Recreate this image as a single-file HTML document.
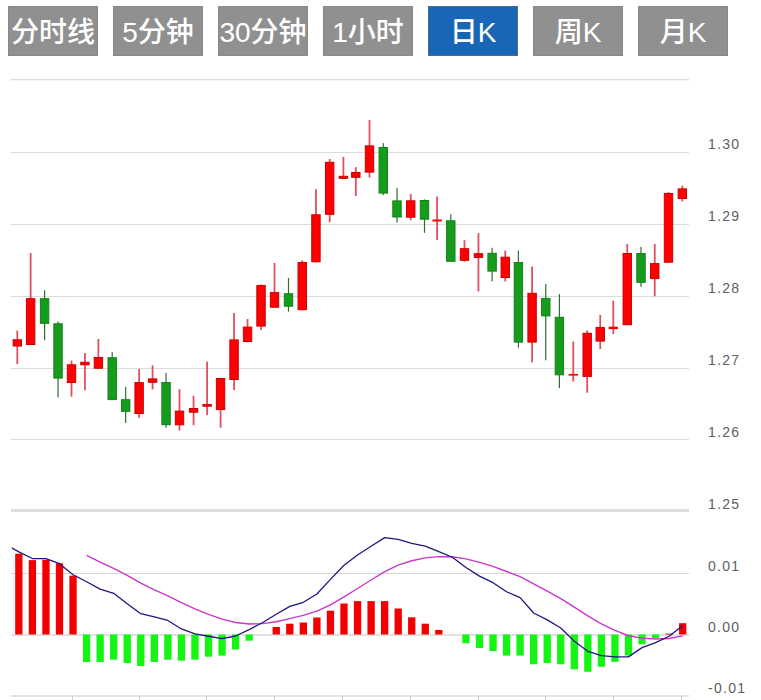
<!DOCTYPE html>
<html><head><meta charset="utf-8"><title>K</title>
<style>
html,body{margin:0;padding:0;background:#fff;}
body{width:761px;height:700px;overflow:hidden;position:relative;font-family:"Liberation Sans","Noto Sans CJK SC",sans-serif;}
.btn{position:absolute;top:6px;width:90px;height:50px;box-sizing:border-box;border:1px solid #888;line-height:51px;background:#909090;color:#fff;text-align:center;font-size:28px;font-weight:500;white-space:nowrap;}
.btn.on{background:#1a66b6;border-color:#4a6c8e;}
svg{position:absolute;left:0;top:0;}
svg text{font-family:"Liberation Sans",sans-serif;}
</style></head><body>
<div class="btn" style="left:8px">分时线</div><div class="btn" style="left:113px">5分钟</div><div class="btn" style="left:218px">30分钟</div><div class="btn" style="left:323px">1小时</div><div class="btn on" style="left:428px">日K</div><div class="btn" style="left:533px">周K</div><div class="btn" style="left:638px">月K</div>
<svg width="761" height="700" viewBox="0 0 761 700">
<rect x="11" y="152" width="678" height="1" fill="#dcdcdc"/>
<rect x="11" y="224" width="678" height="1" fill="#dcdcdc"/>
<rect x="11" y="296" width="678" height="1" fill="#dcdcdc"/>
<rect x="11" y="368" width="678" height="1" fill="#dcdcdc"/>
<rect x="11" y="439" width="678" height="1" fill="#dcdcdc"/>
<rect x="11" y="509" width="678" height="3" fill="#dedede"/>
<rect x="11" y="79" width="678" height="1.3" fill="#dcdcdc"/>
<rect x="11" y="573" width="678" height="1" fill="#d6d6d6"/>
<rect x="11" y="634" width="678" height="2" fill="#e2e2e4"/>
<rect x="11" y="695" width="678" height="2" fill="#e2e2e2"/>
<rect x="72" y="696" width="1" height="4" fill="#d0d0d0"/>
<rect x="139" y="696" width="1" height="4" fill="#d0d0d0"/>
<rect x="206" y="696" width="1" height="4" fill="#d0d0d0"/>
<rect x="274" y="696" width="1" height="4" fill="#d0d0d0"/>
<rect x="342" y="696" width="1" height="4" fill="#d0d0d0"/>
<rect x="410" y="696" width="1" height="4" fill="#d0d0d0"/>
<rect x="478" y="696" width="1" height="4" fill="#d0d0d0"/>
<rect x="545" y="696" width="1" height="4" fill="#d0d0d0"/>
<rect x="613" y="696" width="1" height="4" fill="#d0d0d0"/>
<rect x="681" y="696" width="1" height="4" fill="#d0d0d0"/>
<rect x="16.40" y="330.50" width="1.8" height="33.50" fill="#e0505f"/>
<rect x="13.10" y="339.80" width="8.4" height="6.20" fill="#ff0000" stroke="#cc0000" stroke-width="1"/>
<rect x="29.75" y="253.00" width="1.8" height="92.00" fill="#e0505f"/>
<rect x="26.45" y="298.70" width="8.4" height="45.80" fill="#ff0000" stroke="#cc0000" stroke-width="1"/>
<rect x="44.00" y="290.20" width="1.2" height="49.70" fill="#2f6f35"/>
<rect x="40.40" y="298.70" width="8.4" height="24.60" fill="#169c1c" stroke="#14801a" stroke-width="1"/>
<rect x="57.45" y="321.50" width="1.2" height="76.00" fill="#2f6f35"/>
<rect x="53.85" y="323.80" width="8.4" height="54.30" fill="#169c1c" stroke="#14801a" stroke-width="1"/>
<rect x="70.60" y="360.50" width="1.8" height="36.20" fill="#e0505f"/>
<rect x="67.30" y="364.80" width="8.4" height="17.70" fill="#ff0000" stroke="#cc0000" stroke-width="1"/>
<rect x="84.05" y="353.00" width="1.8" height="37.30" fill="#e0505f"/>
<rect x="80.75" y="362.30" width="8.4" height="2.50" fill="#ff0000" stroke="#cc0000" stroke-width="1"/>
<rect x="97.50" y="339.00" width="1.8" height="29.70" fill="#e0505f"/>
<rect x="94.20" y="357.50" width="8.4" height="10.70" fill="#ff0000" stroke="#cc0000" stroke-width="1"/>
<rect x="111.60" y="352.10" width="1.2" height="48.00" fill="#2f6f35"/>
<rect x="108.00" y="357.70" width="8.4" height="41.90" fill="#169c1c" stroke="#14801a" stroke-width="1"/>
<rect x="125.06" y="386.90" width="1.2" height="36.00" fill="#2f6f35"/>
<rect x="121.46" y="399.70" width="8.4" height="11.60" fill="#169c1c" stroke="#14801a" stroke-width="1"/>
<rect x="138.22" y="368.90" width="1.8" height="48.90" fill="#e0505f"/>
<rect x="134.92" y="382.60" width="8.4" height="30.90" fill="#ff0000" stroke="#cc0000" stroke-width="1"/>
<rect x="151.68" y="365.40" width="1.8" height="24.00" fill="#e0505f"/>
<rect x="148.38" y="378.90" width="8.4" height="3.40" fill="#ff0000" stroke="#cc0000" stroke-width="1"/>
<rect x="165.44" y="372.90" width="1.2" height="54.90" fill="#2f6f35"/>
<rect x="161.84" y="382.50" width="8.4" height="42.20" fill="#169c1c" stroke="#14801a" stroke-width="1"/>
<rect x="178.60" y="389.20" width="1.8" height="41.30" fill="#e0505f"/>
<rect x="175.30" y="411.10" width="8.4" height="13.70" fill="#ff0000" stroke="#cc0000" stroke-width="1"/>
<rect x="192.65" y="395.70" width="1.8" height="29.50" fill="#e0505f"/>
<rect x="189.35" y="408.50" width="8.4" height="3.70" fill="#ff0000" stroke="#cc0000" stroke-width="1"/>
<rect x="206.20" y="361.70" width="1.8" height="53.50" fill="#e0505f"/>
<rect x="202.90" y="404.60" width="8.4" height="1.60" fill="#ff0000" stroke="#cc0000" stroke-width="1"/>
<rect x="219.68" y="378.00" width="1.8" height="49.80" fill="#e0505f"/>
<rect x="216.38" y="378.50" width="8.4" height="31.10" fill="#ff0000" stroke="#cc0000" stroke-width="1"/>
<rect x="233.16" y="313.00" width="1.8" height="77.00" fill="#e0505f"/>
<rect x="229.86" y="339.90" width="8.4" height="39.60" fill="#ff0000" stroke="#cc0000" stroke-width="1"/>
<rect x="246.64" y="319.00" width="1.8" height="23.40" fill="#e0505f"/>
<rect x="243.34" y="327.10" width="8.4" height="14.40" fill="#ff0000" stroke="#cc0000" stroke-width="1"/>
<rect x="260.12" y="284.40" width="1.8" height="45.60" fill="#e0505f"/>
<rect x="256.82" y="285.50" width="8.4" height="40.60" fill="#ff0000" stroke="#cc0000" stroke-width="1"/>
<rect x="273.60" y="263.00" width="1.8" height="44.70" fill="#e0505f"/>
<rect x="270.30" y="292.60" width="8.4" height="14.60" fill="#ff0000" stroke="#cc0000" stroke-width="1"/>
<rect x="287.90" y="278.00" width="1.2" height="33.60" fill="#2f6f35"/>
<rect x="284.30" y="293.70" width="8.4" height="12.50" fill="#169c1c" stroke="#14801a" stroke-width="1"/>
<rect x="301.33" y="260.40" width="1.8" height="49.80" fill="#e0505f"/>
<rect x="298.03" y="262.50" width="8.4" height="47.20" fill="#ff0000" stroke="#cc0000" stroke-width="1"/>
<rect x="315.05" y="189.20" width="1.8" height="73.10" fill="#e0505f"/>
<rect x="311.75" y="214.80" width="8.4" height="47.00" fill="#ff0000" stroke="#cc0000" stroke-width="1"/>
<rect x="328.77" y="159.00" width="1.8" height="63.30" fill="#e0505f"/>
<rect x="325.47" y="162.30" width="8.4" height="52.00" fill="#ff0000" stroke="#cc0000" stroke-width="1"/>
<rect x="342.50" y="156.80" width="1.8" height="22.00" fill="#e0505f"/>
<rect x="339.20" y="176.30" width="8.4" height="2.00" fill="#ff0000" stroke="#cc0000" stroke-width="1"/>
<rect x="354.90" y="167.10" width="1.8" height="28.90" fill="#e0505f"/>
<rect x="351.60" y="172.50" width="8.4" height="4.80" fill="#ff0000" stroke="#cc0000" stroke-width="1"/>
<rect x="368.60" y="120.00" width="1.8" height="57.60" fill="#e0505f"/>
<rect x="365.30" y="145.90" width="8.4" height="26.20" fill="#ff0000" stroke="#cc0000" stroke-width="1"/>
<rect x="382.65" y="143.10" width="1.2" height="52.00" fill="#2f6f35"/>
<rect x="379.05" y="147.50" width="8.4" height="45.60" fill="#169c1c" stroke="#14801a" stroke-width="1"/>
<rect x="396.40" y="188.10" width="1.2" height="34.50" fill="#2f6f35"/>
<rect x="392.80" y="200.90" width="8.4" height="16.10" fill="#169c1c" stroke="#14801a" stroke-width="1"/>
<rect x="409.85" y="194.10" width="1.8" height="26.20" fill="#e0505f"/>
<rect x="406.55" y="200.80" width="8.4" height="16.40" fill="#ff0000" stroke="#cc0000" stroke-width="1"/>
<rect x="423.90" y="199.40" width="1.2" height="33.40" fill="#2f6f35"/>
<rect x="420.30" y="200.50" width="8.4" height="18.70" fill="#169c1c" stroke="#14801a" stroke-width="1"/>
<rect x="436.20" y="196.60" width="1.8" height="43.40" fill="#e0505f"/>
<rect x="432.40" y="219.50" width="9.4" height="2.00" fill="#ff0000"/>
<rect x="450.20" y="214.30" width="1.2" height="47.50" fill="#2f6f35"/>
<rect x="446.60" y="220.80" width="8.4" height="40.50" fill="#169c1c" stroke="#14801a" stroke-width="1"/>
<rect x="463.60" y="240.20" width="1.8" height="21.40" fill="#e0505f"/>
<rect x="460.30" y="248.70" width="8.4" height="11.60" fill="#ff0000" stroke="#cc0000" stroke-width="1"/>
<rect x="477.55" y="233.10" width="1.8" height="58.40" fill="#e0505f"/>
<rect x="474.25" y="253.70" width="8.4" height="3.70" fill="#ff0000" stroke="#cc0000" stroke-width="1"/>
<rect x="491.50" y="247.80" width="1.2" height="33.60" fill="#2f6f35"/>
<rect x="487.90" y="253.30" width="8.4" height="17.80" fill="#169c1c" stroke="#14801a" stroke-width="1"/>
<rect x="504.35" y="250.50" width="1.8" height="30.90" fill="#e0505f"/>
<rect x="501.05" y="257.20" width="8.4" height="20.30" fill="#ff0000" stroke="#cc0000" stroke-width="1"/>
<rect x="517.80" y="250.50" width="1.2" height="97.10" fill="#2f6f35"/>
<rect x="514.20" y="262.50" width="8.4" height="79.60" fill="#169c1c" stroke="#14801a" stroke-width="1"/>
<rect x="531.20" y="266.50" width="1.8" height="95.90" fill="#e0505f"/>
<rect x="527.90" y="293.30" width="8.4" height="48.80" fill="#ff0000" stroke="#cc0000" stroke-width="1"/>
<rect x="545.16" y="284.00" width="1.2" height="76.30" fill="#2f6f35"/>
<rect x="541.56" y="298.40" width="8.4" height="17.50" fill="#169c1c" stroke="#14801a" stroke-width="1"/>
<rect x="558.80" y="294.10" width="1.2" height="93.90" fill="#2f6f35"/>
<rect x="555.20" y="317.30" width="8.4" height="57.50" fill="#169c1c" stroke="#14801a" stroke-width="1"/>
<rect x="572.40" y="341.60" width="1.8" height="39.90" fill="#e0505f"/>
<rect x="568.60" y="374.00" width="9.4" height="1.60" fill="#ff0000"/>
<rect x="586.30" y="330.40" width="1.8" height="62.30" fill="#e0505f"/>
<rect x="583.00" y="333.30" width="8.4" height="43.10" fill="#ff0000" stroke="#cc0000" stroke-width="1"/>
<rect x="599.35" y="315.00" width="1.8" height="34.00" fill="#e0505f"/>
<rect x="596.05" y="327.60" width="8.4" height="13.50" fill="#ff0000" stroke="#cc0000" stroke-width="1"/>
<rect x="612.40" y="300.70" width="1.8" height="33.40" fill="#e0505f"/>
<rect x="608.60" y="326.70" width="9.4" height="2.40" fill="#ff0000"/>
<rect x="626.35" y="244.10" width="1.8" height="81.10" fill="#e0505f"/>
<rect x="623.05" y="253.50" width="8.4" height="71.20" fill="#ff0000" stroke="#cc0000" stroke-width="1"/>
<rect x="640.40" y="246.90" width="1.2" height="40.00" fill="#2f6f35"/>
<rect x="636.80" y="253.50" width="8.4" height="28.80" fill="#169c1c" stroke="#14801a" stroke-width="1"/>
<rect x="653.85" y="244.10" width="1.8" height="52.10" fill="#e0505f"/>
<rect x="650.55" y="263.60" width="8.4" height="15.00" fill="#ff0000" stroke="#cc0000" stroke-width="1"/>
<rect x="667.60" y="192.10" width="1.8" height="70.60" fill="#e0505f"/>
<rect x="664.30" y="193.50" width="8.4" height="68.70" fill="#ff0000" stroke="#cc0000" stroke-width="1"/>
<rect x="681.45" y="185.60" width="1.8" height="15.80" fill="#e0505f"/>
<rect x="678.15" y="188.90" width="8.4" height="9.60" fill="#ff0000" stroke="#cc0000" stroke-width="1"/>
<rect x="15.20" y="553.70" width="7.3" height="80.80" fill="#f20000"/>
<rect x="28.75" y="560.10" width="7.3" height="74.40" fill="#f20000"/>
<rect x="42.30" y="559.80" width="7.3" height="74.70" fill="#f20000"/>
<rect x="55.84" y="563.30" width="7.3" height="71.20" fill="#f20000"/>
<rect x="69.39" y="575.70" width="7.3" height="58.80" fill="#f20000"/>
<rect x="82.94" y="634.50" width="7.3" height="27.50" fill="#14f514"/>
<rect x="96.49" y="634.50" width="7.3" height="27.50" fill="#14f514"/>
<rect x="110.03" y="634.50" width="7.3" height="25.20" fill="#14f514"/>
<rect x="123.58" y="634.50" width="7.3" height="28.50" fill="#14f514"/>
<rect x="137.13" y="634.50" width="7.3" height="31.50" fill="#14f514"/>
<rect x="150.68" y="634.50" width="7.3" height="27.50" fill="#14f514"/>
<rect x="164.22" y="634.50" width="7.3" height="25.20" fill="#14f514"/>
<rect x="177.77" y="634.50" width="7.3" height="26.10" fill="#14f514"/>
<rect x="191.32" y="634.50" width="7.3" height="25.20" fill="#14f514"/>
<rect x="204.87" y="634.50" width="7.3" height="22.20" fill="#14f514"/>
<rect x="218.42" y="634.50" width="7.3" height="21.20" fill="#14f514"/>
<rect x="231.96" y="634.50" width="7.3" height="15.00" fill="#14f514"/>
<rect x="245.51" y="634.50" width="7.3" height="6.20" fill="#14f514"/>
<rect x="272.61" y="627.00" width="7.3" height="7.50" fill="#f20000"/>
<rect x="286.15" y="623.70" width="7.3" height="10.80" fill="#f20000"/>
<rect x="299.70" y="622.50" width="7.3" height="12.00" fill="#f20000"/>
<rect x="313.25" y="617.50" width="7.3" height="17.00" fill="#f20000"/>
<rect x="326.80" y="610.70" width="7.3" height="23.80" fill="#f20000"/>
<rect x="340.34" y="603.50" width="7.3" height="31.00" fill="#f20000"/>
<rect x="353.89" y="601.10" width="7.3" height="33.40" fill="#f20000"/>
<rect x="367.44" y="601.10" width="7.3" height="33.40" fill="#f20000"/>
<rect x="380.99" y="601.10" width="7.3" height="33.40" fill="#f20000"/>
<rect x="394.54" y="608.50" width="7.3" height="26.00" fill="#f20000"/>
<rect x="408.08" y="617.30" width="7.3" height="17.20" fill="#f20000"/>
<rect x="421.63" y="623.70" width="7.3" height="10.80" fill="#f20000"/>
<rect x="435.18" y="630.00" width="7.3" height="4.50" fill="#f20000"/>
<rect x="462.27" y="634.50" width="7.3" height="8.70" fill="#14f514"/>
<rect x="475.82" y="634.50" width="7.3" height="13.50" fill="#14f514"/>
<rect x="489.37" y="634.50" width="7.3" height="16.50" fill="#14f514"/>
<rect x="502.92" y="634.50" width="7.3" height="21.10" fill="#14f514"/>
<rect x="516.46" y="634.50" width="7.3" height="21.10" fill="#14f514"/>
<rect x="530.01" y="634.50" width="7.3" height="29.80" fill="#14f514"/>
<rect x="543.56" y="634.50" width="7.3" height="28.50" fill="#14f514"/>
<rect x="557.11" y="634.50" width="7.3" height="29.80" fill="#14f514"/>
<rect x="570.66" y="634.50" width="7.3" height="34.80" fill="#14f514"/>
<rect x="584.20" y="634.50" width="7.3" height="37.30" fill="#14f514"/>
<rect x="597.75" y="634.50" width="7.3" height="32.30" fill="#14f514"/>
<rect x="611.30" y="634.50" width="7.3" height="27.30" fill="#14f514"/>
<rect x="624.85" y="634.50" width="7.3" height="21.10" fill="#14f514"/>
<rect x="638.39" y="634.50" width="7.3" height="9.80" fill="#14f514"/>
<rect x="651.94" y="634.50" width="7.3" height="3.50" fill="#14f514"/>
<rect x="665.49" y="633.60" width="7.3" height="0.90" fill="#f20000"/>
<rect x="679.04" y="623.20" width="7.3" height="11.30" fill="#f20000"/>
<defs><clipPath id="cp"><rect x="11.8" y="520" width="680" height="180"/></clipPath></defs>
<g clip-path="url(#cp)">
<polyline points="86.59,555.30 100.14,562.06 113.68,568.31 127.23,575.39 140.78,583.06 154.33,589.83 167.87,595.96 181.42,602.56 194.97,608.82 208.52,614.31 222.07,619.18 235.61,622.55 249.16,623.95 262.71,623.66 276.26,621.77 289.80,618.69 303.35,615.41 316.90,611.12 330.45,604.78 343.99,596.87 357.54,588.48 371.09,580.03 384.64,571.55 398.19,565.13 411.73,560.79 425.28,557.86 438.83,556.60 452.38,556.73 465.92,558.89 479.47,562.34 493.02,566.41 506.57,571.48 520.11,576.70 533.66,583.97 547.21,591.16 560.76,598.54 574.31,607.07 587.85,615.91 601.40,623.85 614.95,630.45 628.50,635.73 642.04,638.11 655.59,639.01 669.14,638.46 682.69,635.87" fill="none" stroke="#cc36cc" stroke-width="1.4" stroke-linejoin="round"/>
<polyline points="5.30,544.24 18.85,551.87 32.40,558.54 45.95,558.62 59.49,563.66 73.04,574.79 86.59,581.77 100.14,589.12 113.68,593.32 127.23,603.68 140.78,613.74 154.33,616.92 167.87,620.47 181.42,628.97 194.97,633.87 208.52,636.26 222.07,638.66 235.61,636.01 249.16,629.57 262.71,622.50 276.26,614.21 289.80,606.38 303.35,602.28 316.90,593.96 330.45,579.40 343.99,565.24 357.54,554.94 371.09,546.19 384.64,537.63 398.19,539.44 411.73,543.46 425.28,546.11 438.83,551.57 452.38,557.24 465.92,567.56 479.47,576.13 493.02,582.69 506.57,591.75 520.11,597.59 533.66,613.03 547.21,619.93 560.76,628.05 574.31,641.19 587.85,651.27 601.40,655.61 614.95,656.83 628.50,656.84 642.04,647.63 655.59,642.63 669.14,636.26 682.69,625.50" fill="none" stroke="#1c1880" stroke-width="1.3" stroke-linejoin="round"/>
</g>
<text x="708" y="149.0" font-size="14" letter-spacing="1.3" fill="#606060">1.30</text>
<text x="708" y="221.0" font-size="14" letter-spacing="1.3" fill="#606060">1.29</text>
<text x="708" y="293.0" font-size="14" letter-spacing="1.3" fill="#606060">1.28</text>
<text x="708" y="365.0" font-size="14" letter-spacing="1.3" fill="#606060">1.27</text>
<text x="708" y="437.0" font-size="14" letter-spacing="1.3" fill="#606060">1.26</text>
<text x="708" y="508.5" font-size="14" letter-spacing="1.3" fill="#606060">1.25</text>
<text x="708" y="570.5" font-size="14" letter-spacing="1.3" fill="#606060">0.01</text>
<text x="708" y="632.0" font-size="14" letter-spacing="1.3" fill="#606060">0.00</text>
<text x="708" y="693.0" font-size="14" letter-spacing="1.3" fill="#606060">-0.01</text>
</svg>
</body></html>
